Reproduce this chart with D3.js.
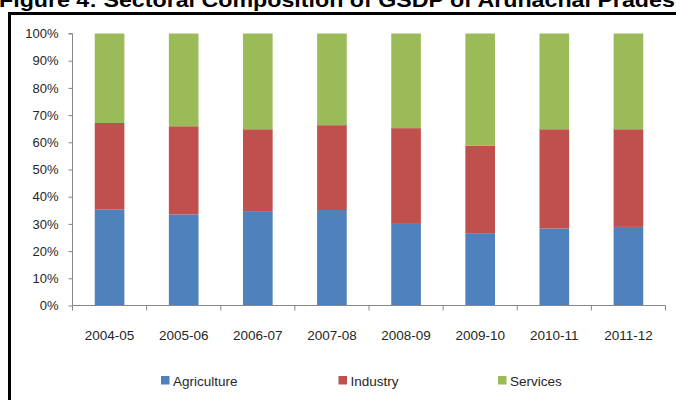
<!DOCTYPE html>
<html>
<head>
<meta charset="utf-8">
<script src="https://cdn.jsdelivr.net/npm/d3@7"></script>
<style>
  html, body { margin: 0; padding: 0; background: #fff; }
  svg { display: block; }
</style>
</head>
<body>
<svg id="chart" width="676" height="400"></svg>
<script>
// Sectoral shares of GSDP, Arunachal Pradesh (% of total)
const years = ["2004-05", "2005-06", "2006-07", "2007-08", "2008-09", "2009-10", "2010-11", "2011-12"];
const agriculture = [35.3, 33.5, 34.7, 35.1, 30.0, 26.6, 28.3, 28.9];
const industry    = [31.8, 32.4, 30.1, 31.2, 35.2, 32.1, 36.5, 35.9];
const services    = [32.9, 34.1, 35.2, 33.7, 34.8, 41.3, 35.2, 35.2];
const sectors = ["Agriculture", "Industry", "Services"];
const sectorColors = ["#4F81BD", "#C0504D", "#9BBB59"];
const yTicks = [0, 10, 20, 30, 40, 50, 60, 70, 80, 90, 100];

const rows = years.map((y, i) => ({
  year: y,
  Agriculture: agriculture[i],
  Industry: industry[i],
  Services: services[i]
}));

const svg = d3.select("#chart");
const font = "'Liberation Sans', Arial, sans-serif";
const textColor = "#262626";
const axisColor = "#868686";

// Title (runs off the top edge of the frame)
svg.append("text")
  .attr("x", -1)
  .attr("y", 7)
  .attr("font-family", font)
  .attr("font-weight", "bold")
  .attr("font-size", 21)
  .attr("fill", "#000")
  .attr("textLength", 690)
  .attr("lengthAdjust", "spacingAndGlyphs")
  .text("Figure 4: Sectoral Composition of GSDP of Arunachal Pradesh");

// Chart frame
svg.append("rect")
  .attr("x", 9.5)
  .attr("y", 13.5)
  .attr("width", 700)
  .attr("height", 420)
  .attr("fill", "none")
  .attr("stroke", "#000")
  .attr("stroke-width", 3);

const x = d3.scaleBand().domain(years).range([72.5, 665.5]).padding(0);
const y = d3.scaleLinear().domain([0, 100]).range([305.5, 33.5]);
const barW = x.bandwidth() * 0.4;

const stack = d3.stack().keys(sectors);
const series = stack(rows);
const color = d3.scaleOrdinal().domain(sectors).range(sectorColors);

// Bars
svg.append("g")
  .selectAll("g")
  .data(series)
  .join("g")
  .attr("fill", d => color(d.key))
  .selectAll("rect")
  .data(d => d)
  .join("rect")
  .attr("x", d => x(d.data.year) + (x.bandwidth() - barW) / 2)
  .attr("y", d => y(d[1]))
  .attr("width", barW)
  .attr("height", d => y(d[0]) - y(d[1]));

// Y axis
const yAxis = d3.axisLeft(y)
  .tickValues(yTicks)
  .tickFormat(d => d + "%")
  .tickSize(4)
  .tickPadding(10);
const gy = svg.append("g").attr("transform", "translate(72.5,0)").call(yAxis);
gy.select(".domain").attr("stroke", axisColor).attr("d", `M-4,${y(100)}H0V${y(0)}`);
gy.selectAll(".tick line").attr("stroke", axisColor);
gy.selectAll(".tick text")
  .attr("font-family", font)
  .attr("font-size", 13)
  .attr("fill", textColor);

// X axis with tick marks between categories
const gx = svg.append("g").attr("transform", `translate(0,${y(0)})`);
gx.append("line")
  .attr("x1", x.range()[0]).attr("x2", x.range()[1])
  .attr("stroke", axisColor);
const bounds = years.map(d => x(d)).concat([x.range()[1]]);
gx.selectAll("line.tk")
  .data(bounds)
  .join("line")
  .attr("class", "tk")
  .attr("x1", d => d).attr("x2", d => d)
  .attr("y1", 0).attr("y2", 5)
  .attr("stroke", axisColor);
gx.selectAll("text")
  .data(years)
  .join("text")
  .attr("x", d => x(d) + x.bandwidth() / 2)
  .attr("y", 34)
  .attr("text-anchor", "middle")
  .attr("font-family", font)
  .attr("font-size", 13.5)
  .attr("fill", textColor)
  .text(d => d);

// Legend
const legendX = [161, 338.5, 498];
const lg = svg.append("g")
  .selectAll("g")
  .data(sectors)
  .join("g")
  .attr("transform", (d, i) => `translate(${legendX[i]},376)`);
lg.append("rect")
  .attr("width", 8.5).attr("height", 8.5)
  .attr("fill", d => color(d));
lg.append("text")
  .attr("x", 12)
  .attr("y", 9.5)
  .attr("font-family", font)
  .attr("font-size", 13.5)
  .attr("fill", textColor)
  .text(d => d);
</script>
</body>
</html>
